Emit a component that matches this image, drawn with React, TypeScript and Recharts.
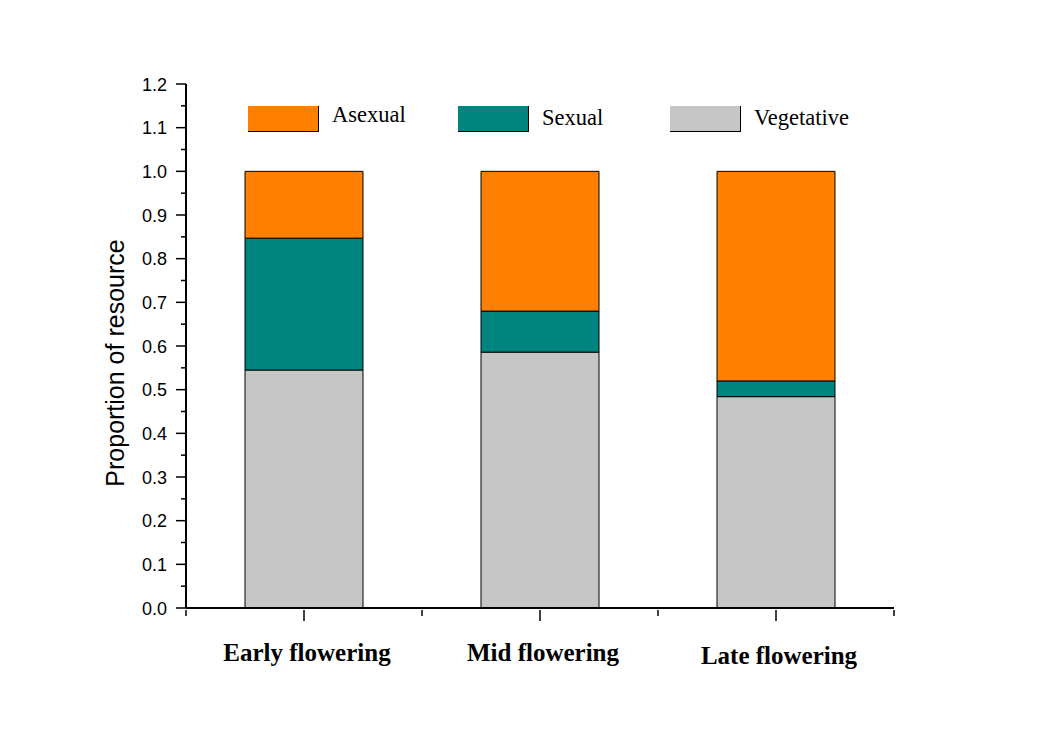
import { Bar, BarChart, Legend, XAxis, YAxis } from "recharts";

const categories = ["Early flowering", "Mid flowering", "Late flowering"];
const vegetative = [0.545, 0.586, 0.484];
const sexual = [0.302, 0.094, 0.036];
const asexual = [0.153, 0.32, 0.48];
const yTicks = [0, 0.05, 0.1, 0.15, 0.2, 0.25, 0.3, 0.35, 0.4, 0.45, 0.5, 0.55, 0.6, 0.65, 0.7, 0.75, 0.8, 0.85, 0.9, 0.95, 1.0, 1.05, 1.1, 1.15, 1.2];
// category centres at half steps, boundaries at whole steps
const xTicks = [0, 0.5, 1, 1.5, 2, 2.5, 3];

const SERIES = [
  { key: "asexual", name: "Asexual", color: "#FF8000", width: 210, lift: -4 },
  { key: "sexual", name: "Sexual", color: "#008480", width: 212, lift: -1 },
  { key: "vegetative", name: "Vegetative", color: "#C6C6C6", width: 200, lift: -1 },
];

const data = categories.map((name, i) => ({
  name,
  pos: i + 0.5,
  vegetative: vegetative[i],
  sexual: sexual[i],
  asexual: asexual[i],
}));

const serif = "'Liberation Serif', 'Times New Roman', serif";
const sans = "'Liberation Sans', Arial, sans-serif";

const YTick = ({ x, y, payload }: any) => {
  const v = payload.value;
  const major = Math.round(v * 100) % 10 === 0;
  return (
    <g>
      <line x1={x - (major ? 10 : 5)} x2={x} y1={y} y2={y} stroke="#000" strokeWidth={1.5} />
      {major && (
        <text x={x - 19} y={y} dy={6.5} textAnchor="end" fontSize={18} fontFamily={sans} fill="#000">
          {v.toFixed(1)}
        </text>
      )}
    </g>
  );
};

const XTick = ({ x, y, payload }: any) => {
  const v = payload.value;
  const centre = Math.abs((v % 1) - 0.5) < 0.01;
  const idx = Math.floor(v);
  const label = centre ? categories[idx] : null;
  return (
    <g>
      <line x1={x} x2={x} y1={y} y2={y + (centre ? 11 : 6)} stroke="#000" strokeWidth={1.5} />
      {label && (
        <text
          x={x + 3}
          y={y + (idx === 2 ? 54 : 51)}
          textAnchor="middle"
          fontSize={25}
          fontWeight="bold"
          fontFamily={serif}
          fill="#000"
        >
          {label}
        </text>
      )}
    </g>
  );
};

const LegendBox = () => (
  <div style={{ display: "flex", fontFamily: serif, fontSize: 22.5, color: "#000" }}>
    {SERIES.map((s) => (
      <div key={s.key} style={{ display: "flex", alignItems: "center", width: s.width }}>
        <div
          style={{
            width: 71,
            height: 26,
            background: s.color,
            borderRight: "1px solid #000",
            borderBottom: "1px solid #000",
            boxSizing: "border-box",
            flexShrink: 0,
          }}
        />
        <span style={{ marginLeft: 13, position: "relative", top: s.lift }}>{s.name}</span>
      </div>
    ))}
  </div>
);

const YLabel = ({ viewBox }: any) => {
  const cy = 363;
  const cx = viewBox.x + 9;
  return (
    <text
      x={cx}
      y={cy}
      transform={`rotate(-90 ${cx} ${cy})`}
      textAnchor="middle"
      dominantBaseline="central"
      fontSize={25}
      fontFamily={sans}
      fill="#000"
    >
      Proportion of resource
    </text>
  );
};

export default function App() {
  return (
    <div style={{ position: "absolute", left: 0, top: 0, background: "#fff" }}>
      <BarChart
        width={1039}
        height={729}
        data={data}
        margin={{ top: 84, right: 145, bottom: 51, left: 106 }}
      >
        <XAxis
          dataKey="pos"
          type="number"
          domain={[0, 3]}
          ticks={xTicks}
          interval={0}
          height={70}
          tick={<XTick />}
          tickLine={false}
          tickSize={0}
          axisLine={{ stroke: "#000", strokeWidth: 2 }}
        />
        <YAxis
          domain={[0, 1.2]}
          ticks={yTicks}
          interval={0}
          width={80}
          tick={<YTick />}
          tickLine={false}
          tickSize={0}
          tickMargin={0}
          axisLine={{ stroke: "#000", strokeWidth: 2 }}
          label={<YLabel />}
        />
        <Legend
          layout="horizontal"
          verticalAlign="middle"
          align="center"
          content={<LegendBox />}
          wrapperStyle={{ position: "absolute", top: 106, left: 248, width: 700 }}
        />
        <Bar dataKey="vegetative" name="Vegetative" stackId="a" fill="#C6C6C6" stroke="#000" strokeWidth={1} barSize={118} isAnimationActive={false} />
        <Bar dataKey="sexual" name="Sexual" stackId="a" fill="#008480" stroke="#000" strokeWidth={1} barSize={118} isAnimationActive={false} />
        <Bar dataKey="asexual" name="Asexual" stackId="a" fill="#FF8000" stroke="#000" strokeWidth={1} barSize={118} isAnimationActive={false} />
      </BarChart>
    </div>
  );
}
